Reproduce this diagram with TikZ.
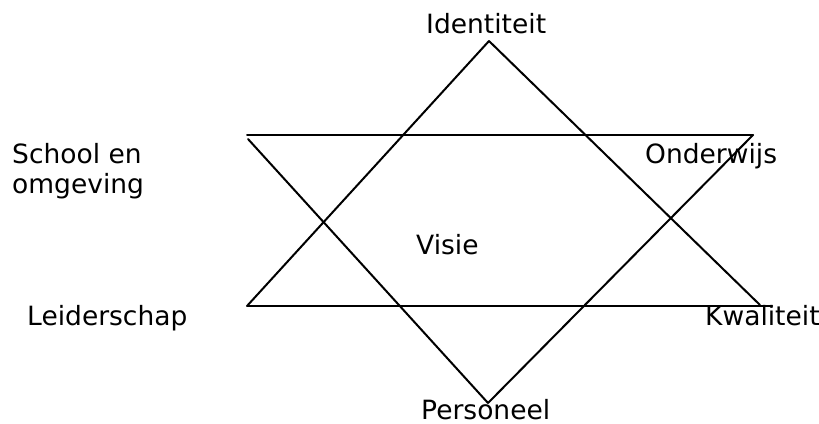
\documentclass[tikz,border=0pt]{standalone}
\usepackage{fontspec}
\setmainfont{DejaVu Sans}
\usetikzlibrary{positioning}

\begin{document}
\begin{tikzpicture}[
			x=1pt,y=-1pt,
			label/.style={
				inner sep=0pt,
				anchor=base west,
				align=left,
				font=\fontsize{26.5}{30}\selectfont
			},
			edge/.style={line width=2pt,line cap=round}
			]
			
			\useasboundingbox (0,0) rectangle (819,423);
			
			% corners of the two triangles
			\coordinate (up top) at (489,41);
			\coordinate (up left) at (247,306);
			\coordinate (up right) at (760,305);
			\coordinate (up end) at (772,306);
			
			\coordinate (dn left) at (247,135);
			\coordinate (dn right) at (753,135);
			\coordinate (dn start) at (248,139);
			\coordinate (dn bottom) at (488,403);
			
			\draw[edge] (up top)--(up left);
			\draw[edge] (up top)--(up right);
			\draw[edge] (up left)--(up end);
			
			\draw[edge] (dn left)--(dn right);
			\draw[edge] (dn start)--(dn bottom);
			\draw[edge] (dn bottom)--(dn right);
			
			\node[label] (id) at (426,33) {Identiteit};
			\node[label,anchor=north west] (school) at (12,143)
			{School en\\omgeving};
			\node[label] (ow) at (645,163) {Onderwijs};
			\node[label] (visie) at (416,254) {Visie};
			\node[label] (leider) at (27,325) {Leiderschap};
			\node[label] (kwal) at (705,325) {Kwaliteit};
			\node[label] (pers) at (421,419) {Personeel};
			
		\end{tikzpicture}
\end{document}
